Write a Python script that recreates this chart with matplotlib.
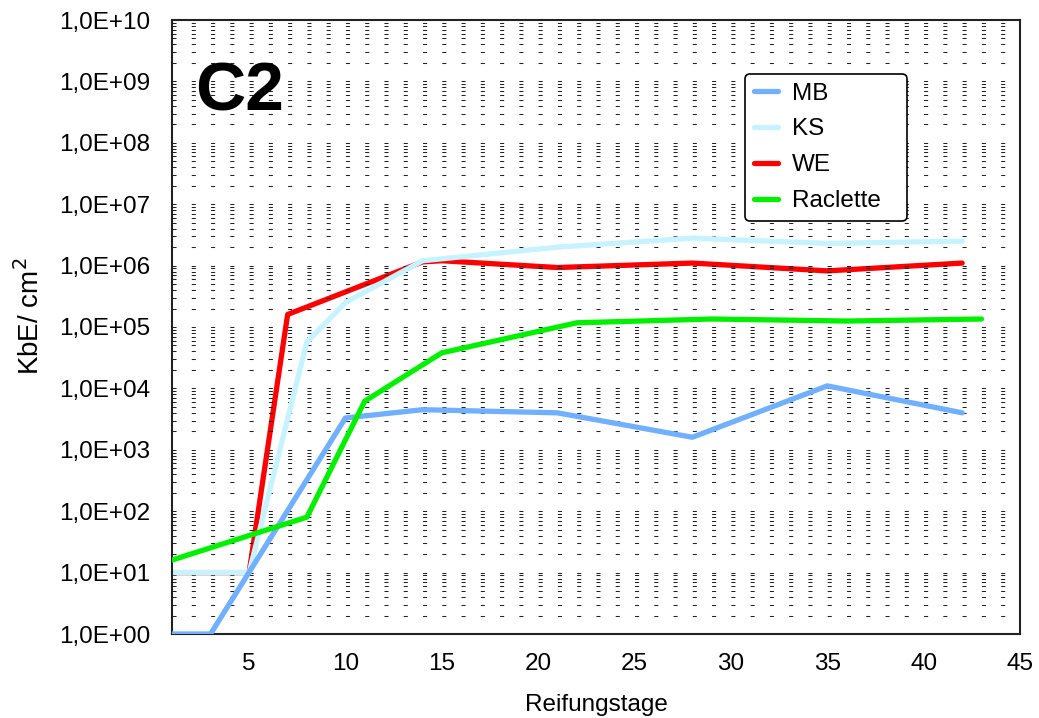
import math
import matplotlib
matplotlib.use("Agg")
import matplotlib.pyplot as plt
from matplotlib.ticker import LogLocator, FixedLocator, FuncFormatter, NullFormatter

plt.rcParams['font.family'] = ['Liberation Sans', 'DejaVu Sans']

# Reifungstage / KbE pro cm2
mb_days = [1, 3, 10, 14, 21, 28, 35, 42]
mb_vals = [1, 1, 3300, 4500, 4000, 1600, 11000, 4000]

ks_days = [1, 5, 8, 10, 14, 21, 28, 35, 42]
ks_vals = [10, 10, 57000, 250000, 1.2e6, 2.0e6, 2.8e6, 2.3e6, 2.5e6]

we_days = [1, 5, 7, 14, 15, 21, 28, 35, 42]
we_vals = [10, 10, 1.6e5, 1.15e6, 1.2e6, 9.3e5, 1.1e6, 8.2e5, 1.1e6]

rac_days = [1, 8, 11, 15, 22, 29, 36, 43]
rac_vals = [16, 80, 6200, 38000, 1.17e5, 1.35e5, 1.25e5, 1.35e5]

series = [
    ("MB", mb_days, mb_vals, "#70B0FF", 3),
    ("KS", ks_days, ks_vals, "#C6F3FF", 2),
    ("WE", we_days, we_vals, "#FF0000", 1),
    ("Raclette", rac_days, rac_vals, "#00F000", 4),
]

fig = plt.figure(figsize=(10.39, 7.18), dpi=100)
ax = fig.add_axes([172 / 1039, 1 - 634 / 718, 848 / 1039, 614 / 718])

for name, d, v, c, z in series:
    ax.plot(d, v, color=c, lw=3.8, label=name, zorder=z,
            solid_joinstyle="round", solid_capstyle="round")

ax.set_yscale("log")
ax.set_ylim(1, 1e10)
ax.set_xlim(1, 45)

ax.yaxis.set_major_locator(LogLocator(base=10, numticks=20))
ax.yaxis.set_minor_locator(LogLocator(base=10, subs=range(2, 10), numticks=20))
ax.yaxis.set_major_formatter(FuncFormatter(lambda y, p: "1,0E+%02d" % round(math.log10(y))))
ax.yaxis.set_minor_formatter(NullFormatter())
ax.xaxis.set_major_locator(FixedLocator([5, 10, 15, 20, 25, 30, 35, 40, 45]))

dash = (0, (3.9, 14.6))
ax.grid(True, which="both", axis="y", color="#222222", lw=0.75, linestyle=dash)
ax.tick_params(axis="both", which="both", length=0, labelsize=17.5)
ax.tick_params(axis="y", pad=15.5)
ax.tick_params(axis="x", pad=14)

for s in ax.spines.values():
    s.set_linewidth(1.5)
    s.set_color("#222222")

ax.set_xlabel("Reifungstage", fontsize=17.5, labelpad=13)
ax.set_ylabel("KbE/ cm$^2$", fontsize=20, labelpad=10)
ax.yaxis.label.set_y(0.518)

ax.text(0.027, 0.853, "C2", transform=ax.transAxes, fontsize=50, fontweight="bold",
        va="baseline", ha="left")

# legend box spans a fixed width in axes coordinates
leg_w = 162 / 848
leg_h = 145 / 614
leg = ax.legend(loc="upper left", bbox_to_anchor=(0.6757, 0.912 - leg_h, leg_w, leg_h),
                mode="expand", borderaxespad=0,
                fontsize=17.5, frameon=True, fancybox=True, edgecolor="black",
                handlelength=1.0, handletextpad=0.6, labelspacing=0.57, borderpad=0.35)
leg.get_frame().set_linewidth(1.2)
leg.get_frame().set_alpha(1)

fig.savefig("out.png", dpi=100)
